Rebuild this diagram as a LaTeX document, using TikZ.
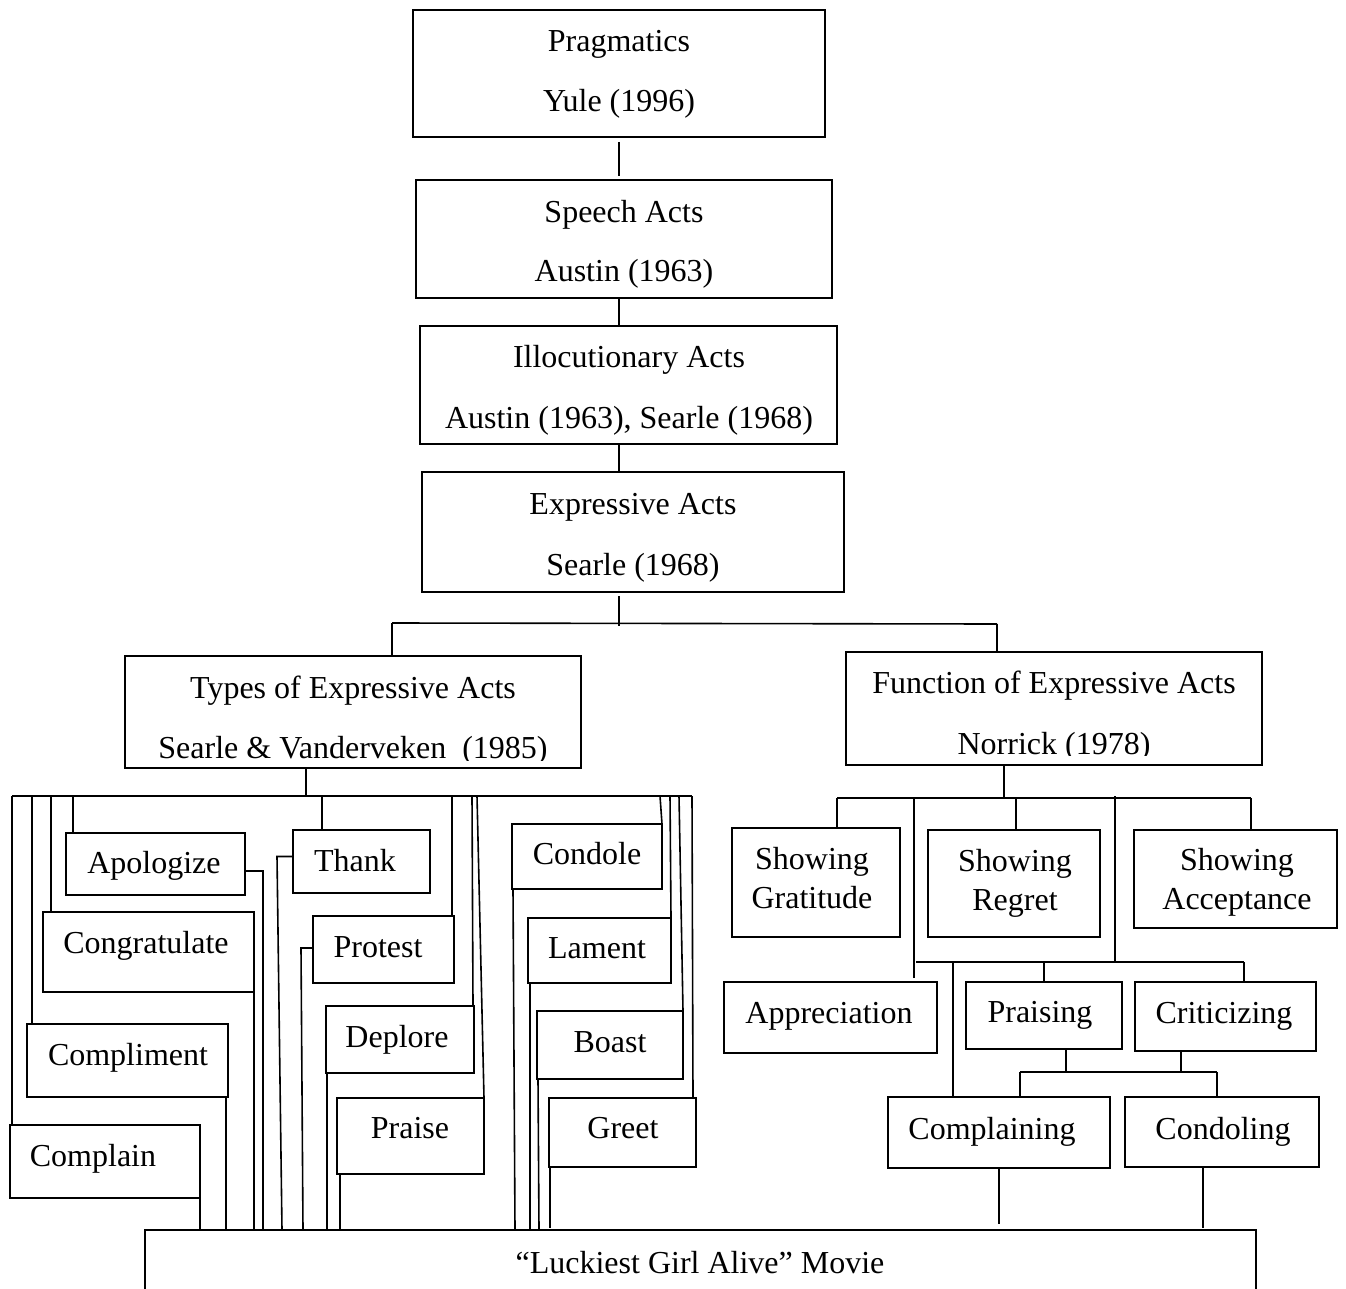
\documentclass[tikz,border=0pt]{standalone}
\usepackage{fontspec}
\setmainfont{Liberation Serif}
\newcommand\mybox[5]{\node[bx, minimum width=#4pt, minimum height=#5pt] (#1) at (#2,#3) {};}
\newcommand\mytext[4]{\node[tx] (#1) at (#2,#3) {#4};}
\begin{document}
\begin{tikzpicture}[x=1pt,y=-1pt,
  bx/.style={draw, line width=1.6pt, inner sep=0pt, outer sep=0pt, anchor=north west},
  tx/.style={anchor=base, inner sep=0pt, font=\fontsize{32}{38}\selectfont},
  ln/.style={line width=1.6pt}]
\useasboundingbox (0,0) rectangle (1346,1289);
\clip (0,0) rectangle (1346,1289);
% ---------- top chain ----------
\mybox{prag}{413}{10}{412}{127}
\mybox{speech}{416}{180}{416}{118}
\mybox{illoc}{420}{326}{417}{118}
\mybox{expr}{422}{472}{422}{120}
\mybox{types}{125}{656}{456}{112}
\mybox{func}{846}{652}{416}{113}
\mytext{t1}{619}{52}{Pragmatics}
\mytext{t2}{619}{112}{Yule (1996)}
\mytext{t3}{624}{223}{Speech Acts}
\mytext{t4}{624}{282}{Austin (1963)}
\mytext{t5}{629}{367}{Illocutionary Acts}
\mytext{t6}{629}{428}{Austin (1963), Searle (1968)}
\mytext{t7}{633}{514}{Expressive Acts}
\mytext{t8}{633}{575}{Searle (1968)}
\mytext{t9}{353}{698}{Types of Expressive Acts}
\mytext{t11}{1054}{693}{Function of Expressive Acts}
\begin{scope}
\clip (125,656) rectangle (581,760);
\mytext{t10}{353}{758}{Searle \& Vanderveken~~(1985)}
\end{scope}
\begin{scope}
\clip (846,652) rectangle (1262,755);
\mytext{t12}{1054}{754}{Norrick (1978)}
\end{scope}
\draw[ln] ([yshift=-5pt]prag.south) -- ([yshift=4pt]prag.south |- speech.north);
\draw[ln] ([xshift=-5pt]speech.south) -- ([xshift=-5pt]speech.south |- illoc.north);
\draw[ln] ([xshift=-9.5pt]illoc.south) -- ([xshift=-9.5pt]illoc.south |- expr.north);
\draw[ln] ([xshift=-14pt,yshift=-4pt]expr.south) -- ++(0,30);
\coordinate (tbL) at (392,623);
\coordinate (tbR) at (997,624);
\draw[ln] (tbL) -- (tbR);
\draw[ln] (tbL) -- (tbL |- types.north);
\draw[ln] (tbR) -- (tbR |- func.north);
% ---------- left group ----------
\mybox{apol}{66}{833}{179}{62}
\mybox{congr}{43}{912}{211}{80}
\mybox{compl}{27}{1024}{201}{73}
\mybox{compn}{10}{1125}{190}{73}
\mybox{thank}{293}{830}{137}{63}
\mybox{prot}{313}{916}{141}{67}
\mybox{depl}{326}{1006}{148}{67}
\mybox{prais}{337}{1098}{147}{76}
\mybox{condo}{512}{824}{150}{65}
\mybox{lam}{528}{918}{143}{65}
\mybox{boast}{537}{1011}{146}{68}
\mybox{greet}{549}{1098}{147}{69}
\mytext{a1}{154}{873}{Apologize}
\mytext{a2}{146}{953}{Congratulate}
\mytext{a3}{128}{1065}{Compliment}
\mytext{a4}{93}{1166}{Complain}
\mytext{a5}{355}{871}{Thank}
\mytext{a6}{378}{957}{Protest}
\mytext{a7}{397}{1047}{Deplore}
\mytext{a8}{410}{1138}{Praise}
\mytext{a9}{587}{864}{Condole}
\mytext{a10}{597}{958}{Lament}
\mytext{a11}{610}{1052}{Boast}
\mytext{a12}{623}{1138}{Greet}
% movie box
\mybox{movie}{145}{1230}{1111}{120}
\mytext{mv}{700}{1273}{“Luckiest Girl Alive” Movie}
% left bar
\draw[ln] ([xshift=-47pt]types.south) -- ++(0,28);
\coordinate (lb1) at (12,796);
\coordinate (lb2) at (692,796);
\draw[ln] (lb1) -- (lb2);
\draw[ln] ([xshift=2pt]compn.north west) -- ([xshift=2pt]compn.north west |- lb1);
\draw[ln] ([xshift=5pt]compl.north west) -- ([xshift=5pt]compl.north west |- lb1);
\draw[ln] ([xshift=8pt]congr.north west) -- ([xshift=8pt]congr.north west |- lb1);
\draw[ln] ([xshift=7pt]apol.north west) -- ([xshift=7pt]apol.north west |- lb1);
\draw[ln] ([xshift=29pt]thank.north west) -- ([xshift=29pt]thank.north west |- lb1);
\draw[ln] ([xshift=-2pt]prot.north east) -- ([xshift=-2pt]prot.north east |- lb1);
\draw[ln] ([xshift=-1pt]depl.north east) -- ([xshift=-2pt]depl.north east |- lb1);
\draw[ln] (prais.north east) -- ([xshift=-7pt]prais.north east |- lb1);
\draw[ln] (condo.north east) -- ([xshift=-2pt]condo.north east |- lb1);
\draw[ln] (lam.north east) -- ([xshift=-1pt]lam.north east |- lb1);
\draw[ln] (boast.north east) -- ([xshift=-4pt]boast.north east |- lb1);
\draw[ln] ([xshift=-3pt]greet.north east) -- (lb2);
% drops to movie
\draw[ln] ([yshift=11pt]compn.south east) -- (compn.south east |- movie.north);
\draw[ln] ([xshift=-2pt]compl.south east) -- ([xshift=-2pt]compl.south east |- movie.north);
\draw[ln] ([yshift=14pt]congr.south east) -- (congr.south east |- movie.north);
\draw[ln] ([yshift=-7pt]apol.east) -- ++(18,0) coordinate (apo) -- (apo |- movie.north);
\draw[ln] ([yshift=5pt]thank.west) -- ++(-16,0) -- ([xshift=-11pt]thank.west |- movie.north);
\draw[ln] ([yshift=1.5pt]prot.west) -- ++(-12,0) -- ([xshift=-10pt]prot.west |- movie.north);
\draw[ln] ([xshift=1pt]depl.south west) -- ([xshift=1pt]depl.south west |- movie.north);
\draw[ln] ([xshift=3pt]prais.south west) -- ([xshift=3pt]prais.south west |- movie.north);
\draw[ln] ([xshift=1pt]condo.south west) -- ([xshift=3pt]condo.south west |- movie.north);
\draw[ln] ([xshift=2pt]lam.south west) -- ([xshift=2pt]lam.south west |- movie.north);
\draw[ln] ([xshift=1pt]boast.south west) -- ([xshift=2pt]boast.south west |- movie.north);
\draw[ln, shorten >=2pt] ([xshift=1pt]greet.south west) -- ([xshift=1pt]greet.south west |- movie.north);
% ---------- right group ----------
\mybox{grat}{732}{828}{168}{109}
\mybox{regr}{928}{830}{172}{107}
\mybox{acc}{1134}{830}{203}{98}
\mybox{appr}{724}{982}{213}{71}
\mybox{praisg}{966}{982}{156}{67}
\mybox{crit}{1135}{982}{181}{69}
\mybox{cmpl}{888}{1097}{222}{71}
\mybox{cond}{1125}{1097}{194}{70}
\mytext{r1}{812}{869}{Showing}
\mytext{r2}{812}{908}{Gratitude}
\mytext{r3}{1015}{871}{Showing}
\mytext{r4}{1015}{910}{Regret}
\mytext{r5}{1237}{870}{Showing}
\mytext{r6}{1237}{909}{Acceptance}
\mytext{r7}{829}{1023}{Appreciation}
\mytext{r8}{1040}{1022}{Praising}
\mytext{r9}{1224}{1023}{Criticizing}
\mytext{r10}{992}{1139}{Complaining}
\mytext{r11}{1223}{1139}{Condoling}
\draw[ln] ([xshift=-50pt]func.south) -- ++(0,33);
\coordinate (rb1) at (837,798);
\coordinate (rb2) at (1251,798);
\draw[ln] (rb1) -- (rb2);
\draw[ln] (rb1) -- (rb1 |- grat.north);
\draw[ln] ([xshift=-23pt,yshift=4pt]appr.north east) -- ([xshift=-23pt]appr.north east |- rb1);
\draw[ln] ([xshift=2pt]regr.north) -- ([xshift=2pt]regr.north |- rb1);
\draw[ln] (rb2) -- (rb2 |- acc.north);
\coordinate (sb1) at (916,962);
\coordinate (sb2) at (1244,962);
\coordinate (sbm) at (1115,962);
\draw[ln] (sb1) -- (sb2);
\draw[ln] ([yshift=2pt]sbm |- rb1) -- (sbm);
\draw[ln] ([xshift=65pt]cmpl.north west) -- ([xshift=65pt]cmpl.north west |- sb1);
\draw[ln] ([xshift=0pt]praisg.north) -- (praisg.north |- sb1);
\draw[ln] (sb2) -- (sb2 |- crit.north);
\coordinate (tb1) at (1020,1072);
\coordinate (tb2) at (1217,1072);
\draw[ln] (tb1) -- (tb2);
\draw[ln] ([xshift=22pt]praisg.south) -- ([xshift=22pt]praisg.south |- tb1);
\draw[ln] ([xshift=-44.5pt]crit.south) -- ([xshift=-44.5pt]crit.south |- tb1);
\draw[ln] (tb1) -- (tb1 |- cmpl.north);
\draw[ln] (tb2) -- (tb2 |- cond.north);
\draw[ln, shorten >=6pt] (cmpl.south) -- (cmpl.south |- movie.north);
\draw[ln, shorten >=2pt] ([xshift=-19pt]cond.south) -- ([xshift=-19pt]cond.south |- movie.north);
\end{tikzpicture}
\end{document}
